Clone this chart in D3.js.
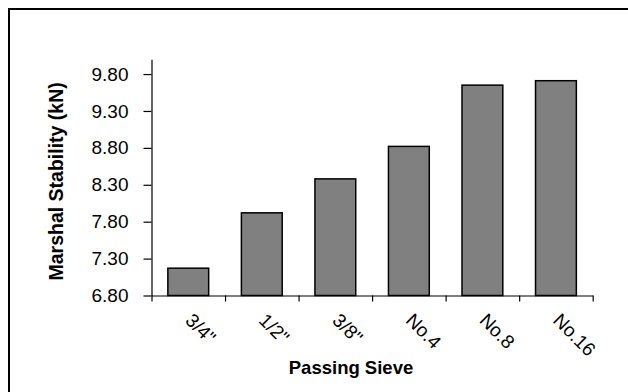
<!DOCTYPE html>
<html>
<head>
<meta charset="utf-8">
<script src="https://cdn.jsdelivr.net/npm/d3@7"></script>
<style>
  html, body { margin: 0; padding: 0; background: #fff; overflow: hidden; }
  svg { display: block; }
  text { font-family: "Liberation Sans", Arial, sans-serif; fill: #000; }
</style>
</head>
<body>
<svg id="chart" width="628" height="392"></svg>
<script>
// Marshall stability by passing sieve
const sieves = ["3/4\"", "1/2\"", "3/8\"", "No.4", "No.8", "No.16"];
const stability = [7.17, 7.92, 8.38, 8.82, 9.65, 9.71];
const yTicks = [6.8, 7.3, 7.8, 8.3, 8.8, 9.3, 9.8];

const svg = d3.select("#chart");

// outer frame (left and top edges fall inside the view)
svg.append("path")
  .attr("d", "M9,392 V9 H628")
  .attr("fill", "none")
  .attr("stroke", "#000").attr("stroke-width", 2);

const plotLeft = 151.5, plotRight = 592.7, plotTop = 59.3, plotBottom = 295.5;

const x = d3.scaleBand().domain(sieves).range([plotLeft, plotRight]).paddingInner(0.445).paddingOuter(0.2225);
const xEdge = d3.scaleLinear().domain([0, sieves.length]).range([plotLeft, plotRight]);
const y = d3.scaleLinear().domain([6.8, 10.0]).range([plotBottom, plotTop]);

// bars
svg.append("g").selectAll("rect")
  .data(sieves)
  .join("rect")
  .attr("x", d => x(d))
  .attr("width", x.bandwidth())
  .attr("y", (d, i) => y(stability[i]))
  .attr("height", (d, i) => y(6.8) - y(stability[i]))
  .attr("fill", "#808080")
  .attr("stroke", "#000")
  .attr("stroke-width", 1.5);

// y axis
const yAxis = svg.append("g")
  .attr("transform", `translate(${plotLeft},0)`)
  .call(d3.axisLeft(y).tickValues(yTicks).tickFormat(d3.format(".2f")).tickSizeInner(8).tickSizeOuter(0).tickPadding(15));
yAxis.select(".domain").attr("stroke", "#000").attr("stroke-width", 1.2);
yAxis.selectAll(".tick line").attr("stroke", "#000").attr("stroke-width", 1.2);
yAxis.selectAll(".tick text")
  .style("font-family", "'Liberation Sans', Arial, sans-serif")
  .style("font-size", "19px")
  .attr("fill", "#000");

// x axis (ticks on category boundaries)
const xAxis = svg.append("g")
  .attr("transform", `translate(0,${plotBottom})`)
  .call(d3.axisBottom(xEdge).tickValues(d3.range(sieves.length + 1)).tickFormat("").tickSizeInner(6).tickSizeOuter(0));
xAxis.select(".domain").attr("stroke", "#000").attr("stroke-width", 1.2);
xAxis.selectAll(".tick line").attr("stroke", "#000").attr("stroke-width", 1.2);

// rotated category labels
svg.append("g").selectAll("text")
  .data(sieves)
  .join("text")
  .attr("transform", d => `translate(${x(d) + x.bandwidth() / 2 - 4},${plotBottom + 26}) rotate(45)`)
  .style("font-size", "19px")
  .text(d => d);

// axis titles
svg.append("text")
  .attr("transform", `translate(63,${(plotTop + plotBottom) / 2 + 4}) rotate(-90)`)
  .attr("text-anchor", "middle")
  .style("font-size", "19.5px")
  .style("font-weight", "bold")
  .text("Marshal Stability (kN)");

svg.append("text")
  .attr("x", 351).attr("y", 374)
  .attr("text-anchor", "middle")
  .style("font-size", "18.5px")
  .style("font-weight", "bold")
  .text("Passing Sieve");
</script>
</body>
</html>
